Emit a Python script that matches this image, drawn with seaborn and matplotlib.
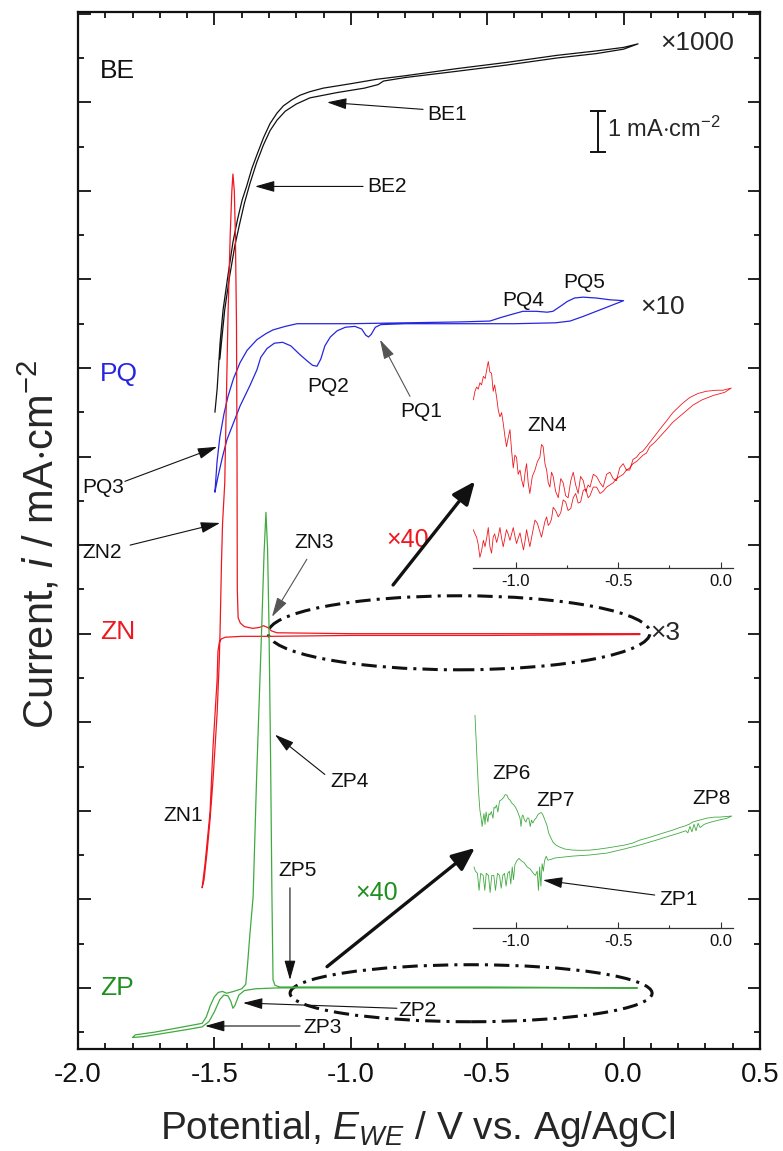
import numpy as np
import pandas as pd
import matplotlib
matplotlib.use("Agg")
import matplotlib.pyplot as plt
from matplotlib.patches import Ellipse
from matplotlib.ticker import MultipleLocator, FixedLocator
import seaborn as sns

sns.set_style("ticks")
plt.rcParams["font.family"] = ["Liberation Sans", "DejaVu Sans"]
plt.rcParams["mathtext.fontset"] = "custom"
plt.rcParams["mathtext.rm"] = "Liberation Sans"
plt.rcParams["mathtext.it"] = "Liberation Sans:italic"
plt.rcParams["axes.unicode_minus"] = False

# ---------------- data: stacked cyclic voltammograms (offset units) ----------------
# BE (x1000): forward and return sweep of the loop
be_E = [-1.498, -1.490, -1.479, -1.468, -1.450, -1.432, -1.415, -1.398, -1.382, -1.363,
        -1.345, -1.320, -1.296, -1.270, -1.247, -1.215, -1.186, -1.150, -1.101, -1.000,
        -0.905, -0.800, -0.612, -0.430, -0.245, -0.100, 0.000, 0.053,
        0.000, -0.100, -0.245, -0.430, -0.612, -0.800, -0.880, -0.900, -0.950, -1.050,
        -1.150, -1.200, -1.240, -1.270, -1.296, -1.320, -1.345, -1.370, -1.390, -1.408,
        -1.425, -1.445, -1.462, -1.474, -1.480]
be_i = [6.50, 6.76, 7.29, 7.66, 8.05, 8.42, 8.68, 8.90, 9.05, 9.25,
        9.40, 9.60, 9.76, 9.88, 9.96, 10.03, 10.08, 10.12, 10.16, 10.21,
        10.26, 10.30, 10.38, 10.45, 10.53, 10.58, 10.62, 10.66,
        10.60, 10.55, 10.50, 10.42, 10.35, 10.28, 10.24, 10.20, 10.16, 10.11,
        10.05, 9.98, 9.90, 9.80, 9.68, 9.52, 9.32, 9.08, 8.86, 8.62,
        8.38, 8.02, 7.66, 7.29, 7.10]

# PQ (x10)
pq_E = [-1.498, -1.490, -1.480, -1.465, -1.450, -1.430, -1.406, -1.380, -1.344, -1.310,
        -1.285, -1.240, -1.197, -1.000, -0.800, -0.600, -0.490, -0.450, -0.416, -0.369,
        -0.320, -0.280, -0.259, -0.230, -0.207, -0.180, -0.149, -0.100, -0.050, 0.000,
        -0.050, -0.100, -0.150, -0.196, -0.250, -0.400, -0.600, -0.800, -0.890, -0.910,
        -0.925, -0.935, -0.945, -0.960, -0.985, -1.020, -1.050, -1.075, -1.095, -1.110,
        -1.124, -1.140, -1.160, -1.186, -1.220, -1.250, -1.280, -1.307, -1.330, -1.344,
        -1.370, -1.406, -1.430, -1.454, -1.470, -1.487, -1.498]
pq_i = [5.60, 5.95, 6.22, 6.48, 6.68, 6.88, 7.06, 7.20, 7.32, 7.39,
        7.43, 7.47, 7.50, 7.50, 7.51, 7.52, 7.53, 7.57, 7.60, 7.64,
        7.64, 7.63, 7.64, 7.70, 7.75, 7.79, 7.80, 7.79, 7.77, 7.76,
        7.70, 7.64, 7.58, 7.53, 7.51, 7.50, 7.50, 7.50, 7.49, 7.46,
        7.38, 7.35, 7.37, 7.44, 7.47, 7.46, 7.42, 7.35, 7.25, 7.10,
        7.02, 7.03, 7.08, 7.15, 7.25, 7.29, 7.28, 7.22, 7.12, 6.98,
        6.80, 6.57, 6.38, 6.19, 6.00, 5.77, 5.60]

# ZN (x3)
zn_E = [0.060, -0.500, -1.000, -1.290, -1.400, -1.460, -1.475, -1.482, -1.487, -1.490,
        -1.505, -1.516, -1.534, -1.545, -1.538, -1.527, -1.516, -1.505, -1.490, -1.482,
        -1.479, -1.474, -1.470, -1.462, -1.457, -1.450, -1.442, -1.436, -1.432, -1.427,
        -1.423, -1.419, -1.417, -1.416, -1.413, -1.405, -1.390, -1.360, -1.335, -1.320,
        -1.305, -1.290, -1.270, -1.000, -0.500, 0.060]
zn_i = [3.99, 3.98, 3.98, 3.97, 3.97, 3.96, 3.94, 3.90, 3.80, 3.48,
        2.72, 1.98, 1.41, 1.13, 1.22, 1.53, 1.90, 2.35, 3.10, 3.70,
        4.05, 4.80, 5.25, 5.70, 6.50, 7.60, 8.50, 9.00, 9.19, 9.00,
        8.50, 7.50, 6.00, 4.50, 4.18, 4.12, 4.08, 4.06, 4.07, 4.09,
        4.07, 4.03, 4.01, 4.00, 4.00, 4.00]

# ZP (x1)
zp_E = [0.050, -0.500, -1.000, -1.270, -1.350, -1.390, -1.410, -1.425, -1.432, -1.440,
        -1.450, -1.465, -1.480, -1.500, -1.520, -1.545, -1.600, -1.680, -1.760, -1.800,
        -1.790, -1.720, -1.650, -1.580, -1.545, -1.530, -1.515, -1.500, -1.485, -1.470,
        -1.455, -1.430, -1.400, -1.385, -1.378, -1.370, -1.358, -1.345, -1.326, -1.318,
        -1.311, -1.305, -1.300, -1.294, -1.289, -1.285, -1.278, -1.260, -1.000, -0.500,
        0.050]
zp_i = [0.00, 0.00, 0.00, 0.00, -0.01, -0.03, -0.08, -0.20, -0.23, -0.15,
        -0.09, -0.08, -0.13, -0.27, -0.38, -0.44, -0.47, -0.51, -0.55, -0.56,
        -0.53, -0.50, -0.46, -0.42, -0.40, -0.33, -0.20, -0.10, -0.05, -0.04,
        -0.06, -0.04, -0.01, 0.04, 0.28, 0.60, 1.03, 2.40, 4.12, 4.90,
        5.37, 4.95, 4.12, 2.60, 1.03, 0.09, 0.03, 0.01, 0.01, 0.01,
        0.00]

# ZN region magnified x40 (inset, offset units)
zn40_E = [-1.208, -1.200, -1.192, -1.184, -1.176, -1.168, -1.159, -1.150, -1.143, -1.135,
          -1.127, -1.119, -1.111, -1.104, -1.094, -1.086, -1.078, -1.070, -1.062, -1.054,
          -1.046, -1.038, -1.029, -1.021, -1.013, -1.005, -0.997, -0.989, -0.980, -0.971,
          -0.963, -0.955, -0.948, -0.940, -0.932, -0.920, -0.907, -0.895, -0.883, -0.875,
          -0.867, -0.858, -0.850, -0.842, -0.834, -0.826, -0.818, -0.806, -0.793, -0.781,
          -0.769, -0.757, -0.745, -0.732, -0.720, -0.708, -0.696, -0.684, -0.671, -0.659,
          -0.647, -0.638, -0.622, -0.606, -0.589, -0.574, -0.557, -0.541, -0.525, -0.509,
          -0.493, -0.476, -0.460, -0.444, -0.428, -0.411, -0.395, -0.379, -0.362, -0.346,
          -0.322, -0.298, -0.265, -0.233, -0.190, -0.152, -0.110, -0.070, -0.020, 0.012,
          0.052,
          0.020, -0.037, -0.090, -0.135, -0.190, -0.233, -0.265, -0.298, -0.322, -0.346,
          -0.362, -0.379, -0.395, -0.411, -0.428, -0.444, -0.460, -0.476, -0.493, -0.509,
          -0.525, -0.541, -0.557, -0.574, -0.589, -0.606, -0.622, -0.638, -0.647, -0.659,
          -0.671, -0.684, -0.696, -0.708, -0.720, -0.732, -0.745, -0.757, -0.769, -0.781,
          -0.793, -0.806, -0.818, -0.826, -0.834, -0.842, -0.850, -0.858, -0.867, -0.875,
          -0.883, -0.895, -0.907, -0.920, -0.932, -0.940, -0.948, -0.955, -0.963, -0.971,
          -0.980, -0.989, -0.997, -1.005, -1.013, -1.021, -1.029, -1.038, -1.046, -1.054,
          -1.062, -1.070, -1.078, -1.086, -1.094, -1.104, -1.111, -1.119, -1.127, -1.135,
          -1.143, -1.151, -1.159, -1.168, -1.176, -1.184, -1.192, -1.200, -1.208]
zn40_i = [0.79, 0.83, 0.85, 0.84, 0.87, 0.86, 0.90, 0.89, 0.93, 0.97,
          0.92, 0.915, 0.83, 0.86, 0.80, 0.74, 0.71, 0.73, 0.68, 0.62,
          0.57, 0.61, 0.65, 0.55, 0.47, 0.53, 0.52, 0.44, 0.46, 0.41,
          0.38, 0.45, 0.49, 0.40, 0.35, 0.43, 0.46, 0.50, 0.52, 0.58,
          0.57, 0.49, 0.46, 0.40, 0.38, 0.45, 0.43, 0.36, 0.33, 0.42,
          0.40, 0.34, 0.33, 0.41, 0.45, 0.39, 0.35, 0.43, 0.41, 0.36,
          0.39, 0.38, 0.44, 0.43, 0.40, 0.38, 0.44, 0.45, 0.42, 0.41,
          0.47, 0.49, 0.46, 0.46, 0.51, 0.52, 0.54, 0.55, 0.57, 0.59,
          0.62, 0.65, 0.69, 0.73, 0.77, 0.80, 0.82, 0.83, 0.835, 0.835,
          0.845,
          0.825, 0.81, 0.79, 0.765, 0.72, 0.685, 0.65, 0.615, 0.59, 0.57,
          0.54, 0.53, 0.515, 0.50, 0.49, 0.47, 0.46, 0.44, 0.43, 0.42,
          0.40, 0.39, 0.38, 0.36, 0.35, 0.38, 0.38, 0.34, 0.33, 0.37,
          0.365, 0.31, 0.305, 0.35, 0.33, 0.28, 0.27, 0.31, 0.32, 0.26,
          0.24, 0.27, 0.285, 0.23, 0.21, 0.20, 0.24, 0.22, 0.18, 0.145,
          0.17, 0.21, 0.225, 0.16, 0.10, 0.14, 0.18, 0.13, 0.085, 0.12,
          0.165, 0.14, 0.115, 0.15, 0.19, 0.16, 0.13, 0.16, 0.18, 0.14,
          0.10, 0.14, 0.19, 0.15, 0.12, 0.16, 0.145, 0.07, 0.10, 0.19,
          0.14, 0.10, 0.13, 0.08, 0.05, 0.11, 0.145, 0.16, 0.18]

# ZP region magnified x40 (inset, offset units)
zp40_E = [-1.200, -1.195, -1.190, -1.183, -1.176, -1.170, -1.165, -1.161, -1.156, -1.151,
          -1.146, -1.141, -1.137, -1.132, -1.127, -1.120, -1.112, -1.107, -1.102, -1.095,
          -1.088, -1.080, -1.073, -1.066, -1.059, -1.052, -1.044, -1.036, -1.029, -1.020,
          -1.010, -1.002, -0.995, -0.988, -0.980, -0.975, -0.970, -0.966, -0.958, -0.951,
          -0.944, -0.937, -0.930, -0.924, -0.917, -0.910, -0.902, -0.893, -0.883, -0.875,
          -0.868, -0.858, -0.849, -0.840, -0.829, -0.818, -0.805, -0.790, -0.761, -0.722,
          -0.680, -0.639, -0.600, -0.556, -0.510, -0.468, -0.430, -0.395, -0.350, -0.298,
          -0.260, -0.234, -0.200, -0.176, -0.150, -0.137, -0.102, -0.068, -0.030, -0.005,
          0.030, 0.054,
          0.030, 0.000, -0.030, -0.060, -0.080, -0.100, -0.110, -0.120, -0.130, -0.140,
          -0.150, -0.160, -0.170, -0.200, -0.234, -0.300, -0.395, -0.480, -0.556, -0.640,
          -0.722, -0.780, -0.810, -0.830, -0.844, -0.852, -0.860, -0.866, -0.872, -0.878,
          -0.884, -0.890, -0.896, -0.905, -0.915, -0.930, -0.945, -0.960, -0.975, -0.985,
          -0.995, -1.005, -1.012, -1.018, -1.025, -1.032, -1.040, -1.048, -1.056, -1.064,
          -1.072, -1.080, -1.090, -1.100, -1.108, -1.118, -1.126, -1.134, -1.145, -1.152,
          -1.160, -1.172, -1.180, -1.188, -1.198, -1.205]
zp40_i = [0.953, 0.85, 0.742, 0.60, 0.507, 0.47, 0.43, 0.46, 0.49, 0.44,
          0.498, 0.47, 0.451, 0.49, 0.484, 0.50, 0.469, 0.52, 0.516, 0.53,
          0.498, 0.55, 0.554, 0.56, 0.568, 0.58, 0.577, 0.56, 0.554, 0.54,
          0.531, 0.52, 0.507, 0.49, 0.469, 0.43, 0.478, 0.484, 0.46, 0.451,
          0.47, 0.469, 0.43, 0.46, 0.446, 0.46, 0.469, 0.485, 0.493, 0.495,
          0.484, 0.46, 0.437, 0.40, 0.376, 0.355, 0.343, 0.335, 0.324, 0.319,
          0.318, 0.319, 0.323, 0.329, 0.336, 0.343, 0.352, 0.366, 0.378, 0.394,
          0.405, 0.413, 0.425, 0.432, 0.442, 0.451, 0.460, 0.469, 0.474, 0.474,
          0.477, 0.479,
          0.468, 0.462, 0.455, 0.447, 0.44, 0.425, 0.445, 0.41, 0.44, 0.405,
          0.43, 0.40, 0.41, 0.40, 0.390, 0.37, 0.343, 0.322, 0.305, 0.296,
          0.291, 0.285, 0.282, 0.275, 0.272, 0.29, 0.27, 0.22, 0.255, 0.15,
          0.24, 0.13, 0.22, 0.20, 0.21, 0.23, 0.24, 0.26, 0.27, 0.28,
          0.27, 0.25, 0.18, 0.24, 0.16, 0.22, 0.21, 0.15, 0.21, 0.20,
          0.14, 0.20, 0.21, 0.13, 0.20, 0.20, 0.12, 0.20, 0.21, 0.13,
          0.20, 0.21, 0.13, 0.21, 0.22, 0.24]

x_ticks = [-2.0, -1.5, -1.0, -0.5, 0.0, 0.5]
inset_ticks = [-1.0, -0.5, 0.0]

# ---------------- styling ----------------
BLACK = "#111111"
BLUE = "#2626e0"
RED = "#f01820"
GREEN_LINE = "#40aa40"
GREEN_TEXT = "#1f8f1f"
FS_LABEL = 15
FS_TAG = 19

fig = plt.figure(figsize=(7.83, 11.51), dpi=100)
ax = fig.add_axes([0.0996, 0.0886, 0.8710, 0.9010])


def trace(axis, E, i, color, lw):
    df = pd.DataFrame({"E": E, "i": i})
    sns.lineplot(data=df, x="E", y="i", sort=False, estimator=None,
                 color=color, lw=lw, ax=axis)


trace(ax, be_E, be_i, BLACK, 0.9)
trace(ax, pq_E, pq_i, BLUE, 0.9)
trace(ax, zn_E, zn_i, RED, 0.9)
trace(ax, zp_E, zp_i, GREEN_LINE, 0.9)

ax.set_xlim(-2.0, 0.5)
ax.set_ylim(-0.69, 11.02)
ax.xaxis.set_major_locator(FixedLocator(x_ticks))
ax.set_xticklabels([f"{t:.1f}" for t in x_ticks])
ax.xaxis.set_minor_locator(MultipleLocator(0.1))
ax.yaxis.set_major_locator(MultipleLocator(1.0))
ax.yaxis.set_minor_locator(MultipleLocator(0.5))
ax.tick_params(which="both", direction="in", top=True, right=True, width=1.3, colors=BLACK)
ax.tick_params(which="major", length=9)
ax.tick_params(which="minor", length=4.5)
ax.tick_params(axis="x", labelsize=20, pad=9)
ax.tick_params(axis="y", labelleft=False)
for s in ax.spines.values():
    s.set_linewidth(1.6)
    s.set_color(BLACK)

ax.set_xlabel("Potential, $E_{WE}$ / V vs. Ag/AgCl", fontsize=28)
ax.set_ylabel("Current, $i$ / mA$\\cdot$cm$^{-2}$", fontsize=30)
ax.xaxis.set_label_coords(0.4985, -0.058)
ax.yaxis.set_label_coords(-0.022, 0.487)

# curve tags
ax.text(-1.919, 10.35, "BE", color=BLACK, fontsize=FS_TAG, ha="left", va="center")
ax.text(-1.919, 6.93, "PQ", color=BLUE, fontsize=FS_TAG, ha="left", va="center")
ax.text(-1.919, 4.02, "ZN", color=RED, fontsize=FS_TAG, ha="left", va="center")
ax.text(-1.919, 0.00, "ZP", color=GREEN_TEXT, fontsize=FS_TAG, ha="left", va="center")

# multipliers
ax.text(0.133, 10.67, "×1000", fontsize=19, ha="left", va="center")
ax.text(0.062, 7.69, "×10", fontsize=19, ha="left", va="center")
ax.text(0.097, 4.01, "×3", fontsize=19, ha="left", va="center")
ax.text(-0.790, 5.06, "×40", color=RED, fontsize=18, ha="center", va="center")
ax.text(-0.904, 1.07, "×40", color=GREEN_TEXT, fontsize=18, ha="center", va="center")

# current scale bar
ax.errorbar([-0.094], [9.67], yerr=[0.23], color=BLACK, lw=1.4, capsize=6, capthick=1.4)
ax.text(-0.060, 9.69, "1 mA$\\cdot$cm$^{-2}$", fontsize=17, ha="left", va="center")

thin = dict(arrowstyle="-|>,head_length=0.6,head_width=0.17", color=BLACK, lw=0.8,
            mutation_scale=20, shrinkA=0, shrinkB=0)
thin_grey = dict(thin, color="#555555")
thick = dict(arrowstyle="-|>,head_length=0.7,head_width=0.3", color=BLACK, lw=2.4,
             mutation_scale=20, shrinkA=0, shrinkB=0)


def label(axis, text, pos, tail=None, tip=None, props=thin, size=FS_LABEL):
    axis.text(pos[0], pos[1], text, fontsize=size, ha="left", va="center", color=BLACK)
    if tip is not None:
        axis.annotate("", xy=tip, xytext=tail, arrowprops=props)


label(ax, "BE1", (-0.721, 9.86), (-0.735, 9.92), (-1.087, 10.00))
label(ax, "BE2", (-0.941, 9.05), (-0.955, 9.05), (-1.351, 9.05))
label(ax, "PQ1", (-0.820, 6.51), (-0.783, 6.68), (-0.893, 7.32), thin_grey)
label(ax, "PQ2", (-1.161, 6.79))
label(ax, "PQ3", (-1.985, 5.65), (-1.828, 5.72), (-1.490, 6.11))
label(ax, "PQ4", (-0.446, 7.76))
label(ax, "PQ5", (-0.222, 7.97))
label(ax, "ZN1", (-1.688, 1.95))
label(ax, "ZN2", (-1.985, 4.92), (-1.809, 5.00), (-1.479, 5.25))
label(ax, "ZN3", (-1.205, 5.03), (-1.161, 4.84), (-1.289, 4.19), thin_grey)
label(ax, "ZP2", (-0.827, -0.25), (-0.831, -0.23), (-1.395, -0.17))
label(ax, "ZP3", (-1.175, -0.45), (-1.186, -0.43), (-1.534, -0.43))
label(ax, "ZP4", (-1.076, 2.33), (-1.095, 2.41), (-1.278, 2.86))
label(ax, "ZP5", (-1.267, 1.33), (-1.223, 1.13), (-1.223, 0.09))

# magnification markers
for cx, cy, w, h in [(-0.603, 4.01, 1.400, 0.836), (-0.559, -0.06, 1.327, 0.644)]:
    ax.add_patch(Ellipse((cx, cy), w, h, fill=False, ec=BLACK, lw=2.2,
                         ls=(0, (5, 2, 1, 2))))
ax.annotate("", xy=(-0.545, 5.72), xytext=(-0.845, 4.55), arrowprops=thick)
ax.annotate("", xy=(-0.545, 1.58), xytext=(-1.087, 0.24), arrowprops=thick)


# ---------------- insets ----------------
def inset(rect, E, i, color, ylim):
    a = fig.add_axes(rect)
    trace(a, E, i, color, 0.6)
    a.set_xlim(-1.21, 0.06)
    a.set_ylim(*ylim)
    for side in ("left", "right", "top"):
        a.spines[side].set_visible(False)
    a.spines["bottom"].set_linewidth(0.9)
    a.spines["bottom"].set_color("#333333")
    a.set_yticks([])
    a.xaxis.set_major_locator(FixedLocator(inset_ticks))
    a.set_xticklabels([f"{t:.1f}" for t in inset_ticks])
    a.xaxis.set_minor_locator(MultipleLocator(0.25))
    a.tick_params(which="both", direction="in", width=0.8, colors="#333333",
                  labelcolor=BLACK, labelsize=12, pad=4)
    a.tick_params(which="major", length=4)
    a.tick_params(which="minor", length=2.5)
    a.set_xlabel("")
    a.set_ylabel("")
    a.patch.set_alpha(0)
    return a


ax1 = inset([0.604, 0.5065, 0.332, 0.185], zn40_E, zn40_i, RED, (0.0, 1.0))
label(ax1, "ZN4", (-0.946, 0.671))

ax2 = inset([0.604, 0.1937, 0.332, 0.185], zp40_E, zp40_i, GREEN_LINE, (-0.047, 0.953))
label(ax2, "ZP6", (-1.117, 0.681))
label(ax2, "ZP7", (-0.898, 0.554))
label(ax2, "ZP8", (-0.137, 0.563))
label(ax2, "ZP1", (-0.298, 0.085), (-0.322, 0.108), (-0.868, 0.178))

fig.savefig("out.png", dpi=100)
